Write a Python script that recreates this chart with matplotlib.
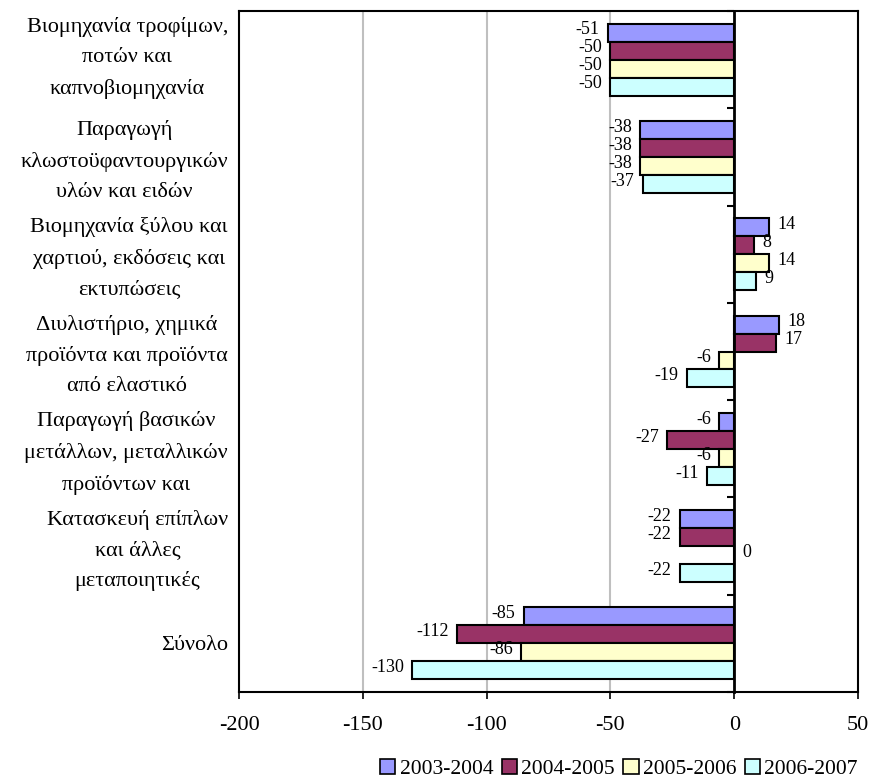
import matplotlib
matplotlib.use("Agg")
import matplotlib.pyplot as plt
from matplotlib.patches import Patch
from matplotlib.transforms import ScaledTranslation
import numpy as np

# --- data ---
categories = [
    "Βιομηχανία τροφίμων,\nποτών και\nκαπνοβιομηχανία",
    "Παραγωγή\nκλωστοϋφαντουργικών\nυλών και ειδών",
    "Βιομηχανία ξύλου και\nχαρτιού, εκδόσεις και\nεκτυπώσεις",
    "Διυλιστήριο, χημικά\nπροϊόντα και προϊόντα\nαπό ελαστικό",
    "Παραγωγή βασικών\nμετάλλων, μεταλλικών\nπροϊόντων και",
    "Κατασκευή επίπλων\nκαι άλλες\nμεταποιητικές",
    "Σύνολο",
]
series_names = ["2003-2004", "2004-2005", "2005-2006", "2006-2007"]
v_2003_2004 = [-51, -38, 14, 18, -6, -22, -85]
v_2004_2005 = [-50, -38, 8, 17, -27, -22, -112]
v_2005_2006 = [-50, -38, 14, -6, -6, 0, -86]
v_2006_2007 = [-50, -37, 9, -19, -11, -22, -130]
series_values = [v_2003_2004, v_2004_2005, v_2005_2006, v_2006_2007]
x_ticks = [-200, -150, -100, -50, 0, 50]

colors = ["#9999FF", "#993366", "#FFFFCC", "#CCFFFF"]

plt.rcParams['font.family'] = ['Liberation Serif', 'DejaVu Serif']

fig = plt.figure(figsize=(8.74, 7.78), dpi=100)
ax = fig.add_axes([239 / 874, 1 - 692 / 778, 619 / 874, 681 / 778])

n_cat = len(categories)
bar_h = 0.185
y_base = np.arange(n_cat)

for k, (vals, col) in enumerate(zip(series_values, colors)):
    ypos = y_base + (k - 1.5) * bar_h
    ax.barh(ypos, vals, height=bar_h, color=col, edgecolor="black",
            linewidth=1.5, zorder=3)
    for y, v in zip(ypos, vals):
        if v < 0:
            ax.annotate(str(v), (v, y), xytext=(-6, 2), textcoords="offset points",
                        ha="right", va="center", fontsize=13, zorder=4)
        else:
            ax.annotate(str(v), (v, y), xytext=(6, 2), textcoords="offset points",
                        ha="left", va="center", fontsize=13, zorder=4)

ax.set_xlim(-200, 50)
ax.set_ylim(n_cat - 0.5, -0.5)
ax.set_xticks(x_ticks)
ax.set_xticklabels([str(t) for t in x_ticks], fontsize=16)
ax.tick_params(axis="x", direction="out", length=5, width=1.2, pad=12)

# gridlines only where there is no axis
for gx in [-150, -100, -50]:
    ax.axvline(gx, color="#BFBFBF", lw=1.5, zorder=1)

ax.set_yticks(y_base)
ax.set_yticklabels(categories, fontsize=16, multialignment="center", linespacing=1.78)
ax.tick_params(axis="y", length=0, pad=8)
# nudge the wrapped labels up a little (first one sits higher in the original)
for i, lab in enumerate(ax.get_yticklabels()):
    if "\n" in lab.get_text():
        dy = 10 if i == 0 else 4
        lab.set_transform(lab.get_transform() + ScaledTranslation(0, dy / 100, fig.dpi_scale_trans))

for s in ax.spines.values():
    s.set_linewidth(1.5)

# category axis drawn at x = 0 with small outward ticks between groups
ax2 = ax.twinx()
ax2.set_ylim(ax.get_ylim())
for name in ["top", "right", "bottom"]:
    ax2.spines[name].set_visible(False)
ax2.spines["left"].set_visible(True)
ax2.spines["left"].set_position(("data", 0))
ax2.spines["left"].set_linewidth(2)
ax2.spines["left"].set_zorder(5)
ax2.yaxis.set_ticks_position("left")
ax2.set_yticks(np.arange(-0.5, n_cat, 1.0))
ax2.set_yticklabels([])
ax2.tick_params(axis="y", direction="out", length=5, width=1.5)

handles = [Patch(facecolor=c, edgecolor="black", linewidth=1.2) for c in colors]
fig.legend(handles, series_names, loc="center", bbox_to_anchor=(619 / 874, 1 - 769 / 778),
           ncol=4, frameon=False, fontsize=15.5, handlelength=0.7, handleheight=0.7,
           handletextpad=0.2, columnspacing=0.4, borderpad=0)

fig.savefig("out.png", dpi=100)
